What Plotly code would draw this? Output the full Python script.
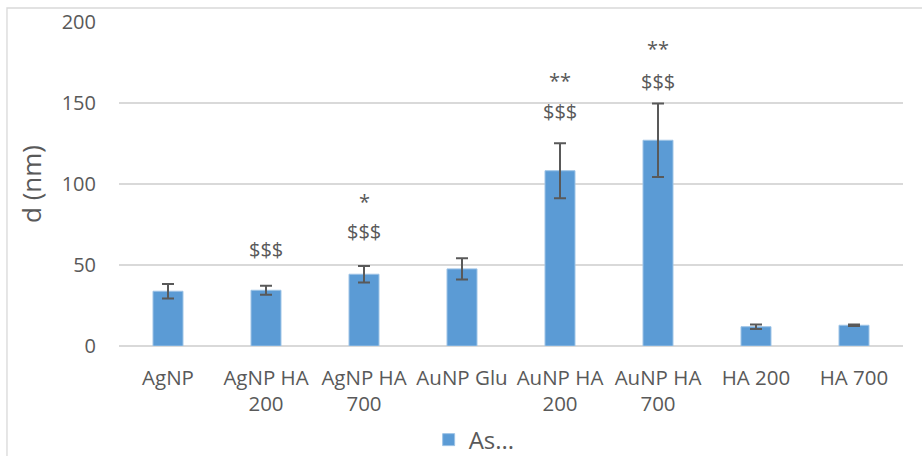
import plotly.graph_objects as go

categories = ["AgNP", "AgNP HA<br>200", "AgNP HA<br>700", "AuNP Glu",
              "AuNP HA<br>200", "AuNP HA<br>700", "HA 200", "HA 700"]
values = [33.8, 34.4, 44.3, 47.6, 108.2, 127.0, 11.9, 12.8]
errors = [4.5, 2.8, 5.1, 6.5, 17.0, 22.7, 1.4, 0.5]
series_name = "As..."

# significance labels: (category index, text, y level in data units)
sig_cats = [1, 2, 2, 4, 4, 5, 5]
sig_text = ["$$$", "$$$", "*", "$$$", "**", "$$$", "**"]
sig_y = [59.3, 70.4, 89.5, 145.0, 164.0, 163.0, 183.5]

grey = "#595959"
fig = go.Figure()
fig.add_trace(go.Bar(
    x=categories, y=values, name=series_name,
    marker=dict(color="#5B9BD5", line=dict(color="#9DC3E6", width=1)),
    error_y=dict(type="data", array=errors, visible=True, color=grey,
                 thickness=2, width=6),
    showlegend=True,
))

for ci, t, yv in zip(sig_cats, sig_text, sig_y):
    fig.add_annotation(x=categories[ci], y=yv, text=t, showarrow=False,
                       font=dict(family="Open Sans", size=20, color=grey),
                       xref="x", yref="y", yanchor="middle")

fig.add_shape(type="rect", xref="paper", yref="paper",
              x0=-0.1429, x1=1.03, y0=-0.36, y1=1.0432,
              line=dict(color="#D9D9D9", width=1.3), fillcolor="rgba(0,0,0,0)",
              layer="below")

fig.update_layout(
    width=922, height=456,
    margin=dict(l=119, r=19, t=22, b=110, autoexpand=False),
    paper_bgcolor="white", plot_bgcolor="white",
    bargap=0.694,
    font=dict(family="Open Sans", size=20, color=grey),
    showlegend=True,
    legend=dict(orientation="h", x=0.453, xanchor="center",
                yref="container", y=0.035, yanchor="middle",
                font=dict(size=24, color=grey),
                bgcolor="rgba(0,0,0,0)"),
    yaxis=dict(range=[0, 200], dtick=50, showgrid=True, automargin=False,
               gridcolor="#D9D9D9", gridwidth=1.5, zeroline=True,
               zerolinecolor="#D9D9D9", zerolinewidth=1.5,
               showline=False, ticks="", ticklabelstandoff=22,
               title=dict(text="d (nm)", font=dict(size=26, color=grey),
                          standoff=12)),
    xaxis=dict(showgrid=False, showline=False, ticks="", automargin=False,
               tickangle=0, ticklabelstandoff=17,
               tickfont=dict(size=20.5)),
)

fig.write_html("out.html", config={"displayModeBar": False},
               post_script="document.body.style.margin='0';")
